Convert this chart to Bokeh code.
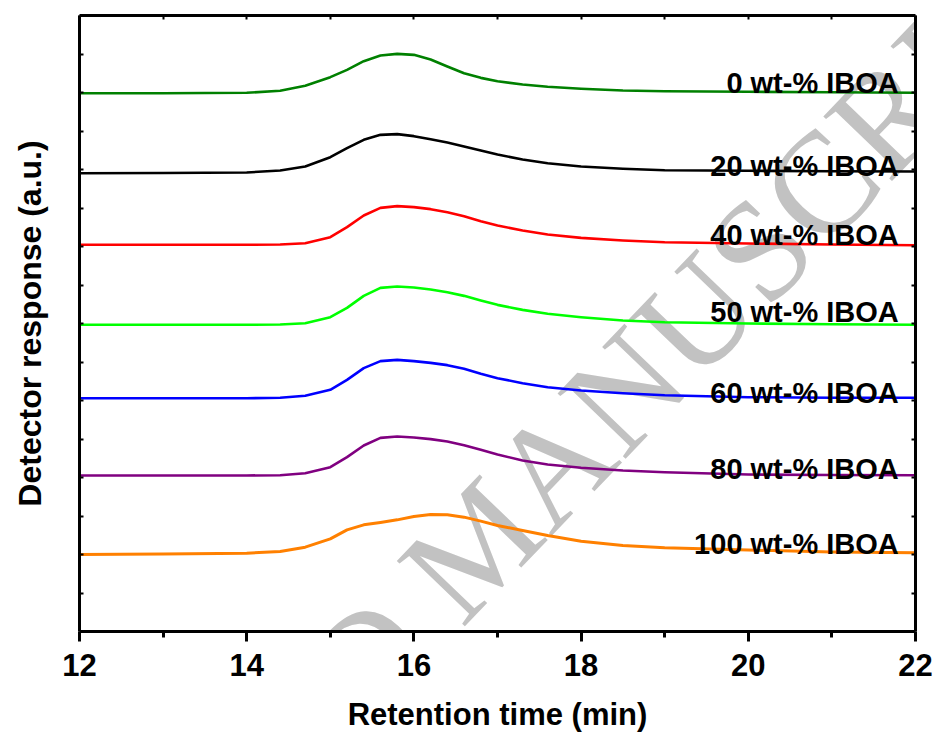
from bokeh.plotting import figure
from bokeh.models import Range1d, LinearAxis, FixedTicker, Label, ColumnDataSource
from bokeh.core.properties import value
from bokeh.embed import file_html
from bokeh.resources import INLINE

# ---- data ----
time_min = [12.0, 13.0, 14.0, 14.4, 14.7, 15.0, 15.2, 15.4, 15.6, 15.8, 16.0, 16.2,
            16.4, 16.6, 16.8, 17.0, 17.3, 17.6, 18.0, 18.5, 19.0, 20.0, 21.0, 22.0]

iboa_0 = [6.990, 6.990, 6.996, 7.022, 7.087, 7.199, 7.294, 7.407, 7.481, 7.502, 7.489, 7.429,
          7.338, 7.251, 7.190, 7.147, 7.104, 7.074, 7.048, 7.026, 7.017, 7.009, 7.003, 6.996]
iboa_20 = [5.952, 5.955, 5.961, 5.987, 6.039, 6.160, 6.277, 6.385, 6.450, 6.459, 6.433, 6.394,
           6.351, 6.299, 6.247, 6.195, 6.130, 6.082, 6.039, 6.009, 5.991, 5.983, 5.978, 5.974]
iboa_40 = [5.022, 5.022, 5.022, 5.026, 5.043, 5.121, 5.251, 5.403, 5.502, 5.524, 5.511, 5.485,
           5.446, 5.394, 5.329, 5.273, 5.208, 5.156, 5.112, 5.078, 5.056, 5.039, 5.026, 5.016]
iboa_50 = [3.983, 3.983, 3.983, 3.987, 4.004, 4.082, 4.203, 4.359, 4.463, 4.481, 4.468, 4.442,
           4.407, 4.359, 4.299, 4.242, 4.177, 4.126, 4.082, 4.039, 4.017, 4.000, 3.990, 3.983]
iboa_60 = [3.030, 3.030, 3.030, 3.035, 3.061, 3.139, 3.268, 3.420, 3.511, 3.528, 3.511, 3.489,
           3.459, 3.411, 3.346, 3.290, 3.225, 3.173, 3.130, 3.095, 3.069, 3.043, 3.036, 3.035]
iboa_80 = [2.026, 2.026, 2.026, 2.030, 2.056, 2.134, 2.264, 2.416, 2.515, 2.532, 2.519, 2.498,
           2.468, 2.420, 2.359, 2.299, 2.221, 2.169, 2.126, 2.091, 2.069, 2.039, 2.032, 2.030]
iboa_100 = [1.000, 1.005, 1.017, 1.039, 1.095, 1.203, 1.320, 1.385, 1.416, 1.450, 1.494, 1.519,
            1.515, 1.485, 1.433, 1.377, 1.312, 1.247, 1.173, 1.117, 1.087, 1.058, 1.032, 1.022]

series = [iboa_0, iboa_20, iboa_40, iboa_50, iboa_60, iboa_80, iboa_100]
series_colors = ["#008000", "#000000", "#ff0000", "#00ff00", "#0000ff", "#800080", "#ff8000"]
series_widths = [2.6, 2.6, 2.6, 2.6, 2.6, 2.6, 3.0]

labels = ["0 wt-% IBOA", "20 wt-% IBOA", "40 wt-% IBOA", "50 wt-% IBOA",
          "60 wt-% IBOA", "80 wt-% IBOA", "100 wt-% IBOA"]
label_x = [21.8] * 7
label_y = [7.117, 6.043, 5.152, 4.147, 3.100, 2.113, 1.130]

x_ticks = [12, 14, 16, 18, 20, 22]
x_minor_ticks = [13, 15, 17, 19, 21]
x_top_ticks = [12, 13, 14, 15, 16, 17, 18, 19, 20, 21, 22]
y_ticks = [0.5, 1, 1.5, 2, 2.5, 3, 3.5, 4, 4.5, 5, 5.5, 6, 6.5, 7, 7.5]

x_title = "Retention time (min)"
y_title = "Detector response (a.u.)"
watermark = "ACCEPTED MANUSCRIPT"

# ---- figure ----
p = figure(width=936, height=735, x_range=Range1d(12, 22), y_range=Range1d(0, 8),
           output_backend="svg", toolbar_location=None,
           min_border_left=79, min_border_right=21, min_border_top=15, min_border_bottom=104)
p.grid.visible = False
p.outline_line_color = None
p.background_fill_color = "white"

wm = Label(x=16.77, y=1.16, text=watermark, angle=0.806, angle_units="rad",
           text_align="center", text_baseline="middle",
           text_font="Liberation Serif", text_font_size="144px",
           text_color="#c2c2c2", level="underlay")
p.add_layout(wm)

for ys, c, w in zip(series, series_colors, series_widths):
    p.line(time_min, ys, line_color=c, line_width=w, line_join="round")

src = ColumnDataSource(dict(x=label_x, y=label_y, t=labels))
p.text(x="x", y="y", text="t", source=src, text_align="right", text_baseline="alphabetic",
       text_font=value("Liberation Sans"), text_font_style="bold",
       text_font_size="29px", text_color="black")

# bottom axis
xa = p.xaxis[0]
xa.ticker = FixedTicker(ticks=x_ticks, minor_ticks=x_minor_ticks)
xa.axis_line_width = 3
xa.major_tick_line_width = 3
xa.minor_tick_line_width = 3
xa.major_tick_out = 10
xa.major_tick_in = 0
xa.minor_tick_out = 6
xa.minor_tick_in = 0
xa.major_label_text_font = "Liberation Sans"
xa.major_label_text_font_style = "bold"
xa.major_label_text_font_size = "31px"
xa.major_label_text_color = "black"
xa.major_label_standoff = 12
xa.axis_label = x_title
xa.axis_label_text_font = "Liberation Sans"
xa.axis_label_text_font_style = "bold"
xa.axis_label_text_font_size = "31px"
xa.axis_label_text_color = "black"
xa.axis_label_standoff = 18


def tick_only(axis, ticks):
    axis.ticker = FixedTicker(ticks=[], minor_ticks=ticks)
    axis.axis_line_width = 3
    axis.major_tick_line_color = None
    axis.minor_tick_line_width = 2
    axis.minor_tick_in = 4
    axis.minor_tick_out = 0
    axis.major_label_standoff = 0


# left axis
ya = p.yaxis[0]
tick_only(ya, y_ticks)
ya.axis_label = y_title
ya.axis_label_text_font = "Liberation Sans"
ya.axis_label_text_font_style = "bold"
ya.axis_label_text_font_size = "32px"
ya.axis_label_text_color = "black"
ya.axis_label_standoff = 32

# top axis
ta = LinearAxis()
tick_only(ta, x_top_ticks)
p.add_layout(ta, "above")

# right axis
ra = LinearAxis()
tick_only(ra, y_ticks)
p.add_layout(ra, "right")

open("out.html", "w").write(file_html(p, INLINE))
